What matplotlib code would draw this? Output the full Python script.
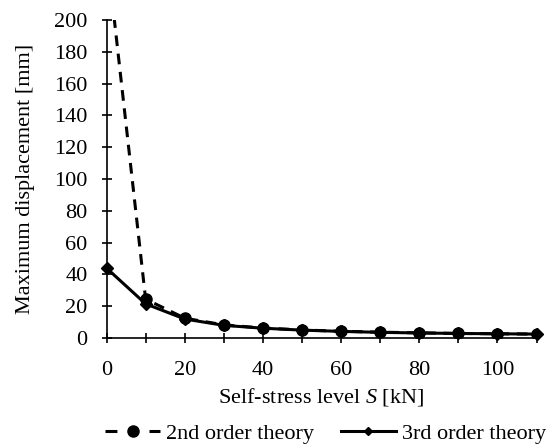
import matplotlib.pyplot as plt
from matplotlib.lines import Line2D
import numpy as np

plt.rcParams['font.family'] = ['Liberation Serif', 'DejaVu Serif']
plt.rcParams['mathtext.fontset'] = 'custom'
plt.rcParams['mathtext.it'] = 'Liberation Serif:italic'
plt.rcParams['mathtext.rm'] = 'Liberation Serif'

# self-stress level S [kN]
S = [0, 10, 20, 30, 40, 50, 60, 70, 80, 90, 100, 110]
# maximum displacement [mm]
disp_2nd = [244, 24.5, 12.5, 8.3, 6.3, 5.1, 4.3, 3.7, 3.3, 2.9, 2.7, 2.5]
disp_3rd = [44, 21.5, 12, 8, 6.2, 5.0, 4.2, 3.6, 3.2, 2.9, 2.7, 2.5]

xticks = [0, 20, 40, 60, 80, 100]
yticks = np.arange(0, 201, 20)
fs = 16

fig = plt.figure(figsize=(5.52, 4.46), dpi=100)
ax = fig.add_axes([0.193, 0.242, 0.779, 0.713])

ax.plot(S, disp_2nd, color='black', lw=2.2, ls=(0, (3.5, 2.5)), marker='o',
        markersize=8, clip_on=True)
ax.plot(S, disp_3rd, color='black', lw=2.2, marker='D', markersize=6.5,
        clip_on=False)

ax.set_xlim(0, 110)
ax.set_ylim(0, 200)
ax.set_xticks(xticks)
ax.set_xticks(np.arange(0, 111, 10), minor=True)
ax.set_yticks(yticks)

for side in ['top', 'right']:
    ax.spines[side].set_visible(False)
for side in ['left', 'bottom']:
    ax.spines[side].set_linewidth(1.2)

ax.tick_params(axis='both', which='both', direction='inout', length=7.2, width=1.2,
               labelsize=fs)
ax.tick_params(axis='x', which='minor', labelbottom=False)
ax.tick_params(axis='x', pad=13)
ax.tick_params(axis='y', pad=10)

ax.set_xlabel('Self-stress level $\\mathit{S}$ [kN]', fontsize=fs, labelpad=4)
ax.set_ylabel('Maximum displacement [mm]', fontsize=fs, labelpad=14)

# legend handles: short dashes around the dot, small diamond on the solid line
h2 = Line2D([], [], color='black', lw=2.2, ls=(0, (3.9, 10.5)), marker='o',
            markersize=8)
h3 = Line2D([], [], color='black', lw=2.2, marker='D', markersize=4.5)
ax.legend([h2, h3], ['2nd order theory', '3rd order theory'],
          loc='center', bbox_to_anchor=(0.51, -0.3), ncol=2, frameon=False,
          fontsize=fs, handlelength=2.45, columnspacing=1.2, handletextpad=0.3,
          numpoints=1)

fig.savefig('out.png', dpi=100)
